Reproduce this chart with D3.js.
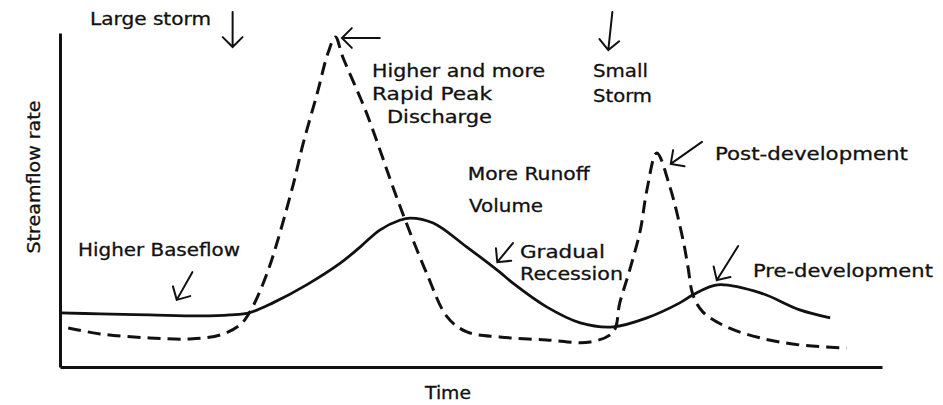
<!DOCTYPE html>
<html>
<head>
<meta charset="utf-8">
<script src="https://cdn.jsdelivr.net/npm/d3@7"></script>
<style>
  body { margin: 0; background: #fff; }
  svg text { font-family: "DejaVu Sans", sans-serif; font-size: 17px; fill: #111; stroke: #111; stroke-width: 0.3px; }
</style>
</head>
<body>
<div class="container"></div>
<script>
// time / streamflow in arbitrary units (0..100)
var preTime  = [0, 4.9, 10.9, 17.0, 20.7, 23.1, 25.9, 30.0, 34.1, 36.5, 38.9, 41.4, 42.6, 45.4, 49.5, 53.5, 55.1, 59.2, 63.3, 67.3, 71.4, 75.4, 77.0, 80.0, 85.2, 90.0, 93.7];
var preFlow  = [16.2, 15.9, 15.6, 15.3, 15.6, 16.3, 19.2, 24.6, 31.1, 35.9, 41.0, 44.0, 44.6, 43.1, 35.9, 28.4, 25.1, 18.0, 13.2, 12.0, 14.7, 19.2, 21.6, 24.6, 22.2, 17.1, 14.7];

var postTime = [1.0, 4.9, 10.9, 15.8, 19.5, 21.9, 23.1, 25.2, 28.2, 29.6, 31.3, 32.6, 33.5, 34.4, 37.3, 40.5, 42.0, 44.6, 47.1, 49.5, 53.5, 59.2, 64.5, 67.3, 68.1, 69.3, 70.6, 71.4, 72.6, 74.2, 75.8, 76.4, 77.0, 78.2, 81.1, 85.2, 90.0, 95.7];
var postFlow = [11.7, 9.9, 8.7, 8.4, 9.6, 12.6, 16.5, 28.1, 53.0, 67.1, 82.0, 94.0, 98.8, 92.8, 76.0, 53.9, 44.0, 28.1, 15.0, 10.5, 9.0, 8.1, 7.5, 10.5, 19.2, 29.0, 41.0, 53.0, 64.1, 53.9, 38.0, 29.9, 21.6, 16.5, 12.0, 8.7, 6.6, 5.7];

// annotation text: [label, time, flow, width]
var notes = [
  ["Large storm", 3.65, 102.4, 121],
  ["Higher and more", 37.96, 86.8, 173],
  ["Rapid Peak", 37.96, 79.9, 120],
  ["Discharge", 39.78, 73.1, 105],
  ["Small", 64.84, 86.8, 55],
  ["Storm", 64.84, 79.3, 59],
  ["More Runoff", 49.6, 56.0, 122],
  ["Volume", 49.76, 46.4, 74],
  ["Post-development", 79.68, 62.0, 193],
  ["Gradual", 55.96, 32.6, 85],
  ["Recession", 55.96, 26.0, 103],
  ["Pre-development", 84.3, 26.9, 180],
  ["Higher Baseflow", 2.19, 33.2, 162]
];

// arrows: [tailTime, tailFlow, tipTime, tipFlow]
var arrows = [
  [21.0, 106.3, 21.0, 95.8],
  [38.9, 98.5, 34.3, 98.5],
  [67.2, 106.3, 66.7, 94.9],
  [78.1, 67.4, 74.3, 60.8],
  [55.1, 37.1, 53.2, 31.4],
  [82.5, 36.2, 79.9, 26.0],
  [16.1, 28.4, 14.2, 20.1]
];

var width = 943;
var height = 405;

var svg = d3.select(".container")
  .append("svg")
  .attr("width", width)
  .attr("height", height);

var x = d3.scaleLinear().domain([0, 100]).range([60, 882]);
var y = d3.scaleLinear().domain([0, 100]).range([367, 33]);

// axes, no ticks
svg.append("g")
  .attr("transform", "translate(0," + y(0) + ")")
  .call(d3.axisBottom(x).ticks(0).tickSizeOuter(0))
  .select(".domain").attr("stroke", "#111").attr("stroke-width", 3);

svg.append("g")
  .attr("transform", "translate(" + x(0) + ",0)")
  .call(d3.axisLeft(y).ticks(0).tickSizeOuter(0))
  .select(".domain").attr("stroke", "#111").attr("stroke-width", 3);

var line = d3.line()
  .x(function (d) { return x(d[0]); })
  .y(function (d) { return y(d[1]); })
  .curve(d3.curveCatmullRom.alpha(0.5));

var pre = d3.zip(preTime, preFlow);
var post = d3.zip(postTime, postFlow);

svg.append("path")
  .attr("d", line(pre))
  .attr("fill", "none")
  .attr("stroke", "#111")
  .attr("stroke-width", 2.8);

svg.append("path")
  .attr("d", line(post))
  .attr("fill", "none")
  .attr("stroke", "#111")
  .attr("stroke-width", 3)
  .attr("stroke-dasharray", "13,7");

// hand drawn style arrows
function arrowPath(a) {
  var x0 = x(a[0]), y0 = y(a[1]), x1 = x(a[2]), y1 = y(a[3]);
  var ang = Math.atan2(y0 - y1, x0 - x1);
  var len = 14, spread = Math.PI / 4;
  var p = d3.path();
  p.moveTo(x0, y0);
  p.lineTo(x1, y1);
  p.moveTo(x1 + len * Math.cos(ang + spread), y1 + len * Math.sin(ang + spread));
  p.lineTo(x1, y1);
  p.lineTo(x1 + len * Math.cos(ang - spread), y1 + len * Math.sin(ang - spread));
  return p.toString();
}

svg.selectAll("path.arrow")
  .data(arrows)
  .enter().append("path")
  .attr("class", "arrow")
  .attr("d", arrowPath)
  .attr("fill", "none")
  .attr("stroke", "#111")
  .attr("stroke-width", 2)
  .attr("stroke-linecap", "round");

svg.selectAll("text.note")
  .data(notes)
  .enter().append("text")
  .attr("class", "note")
  .attr("x", function (d) { return x(d[1]); })
  .attr("y", function (d) { return y(d[2]); })
  .attr("textLength", function (d) { return d[3]; })
  .attr("lengthAdjust", "spacingAndGlyphs")
  .text(function (d) { return d[0]; });

// axis titles
svg.append("text")
  .attr("x", 448)
  .attr("y", 399)
  .attr("text-anchor", "middle")
  .attr("textLength", 46)
  .attr("lengthAdjust", "spacingAndGlyphs")
  .text("Time");

svg.append("text")
  .attr("transform", "translate(40,177) rotate(-90)")
  .attr("text-anchor", "middle")
  .attr("textLength", 153)
  .attr("lengthAdjust", "spacingAndGlyphs")
  .text("Streamflow rate");
</script>
</body>
</html>
